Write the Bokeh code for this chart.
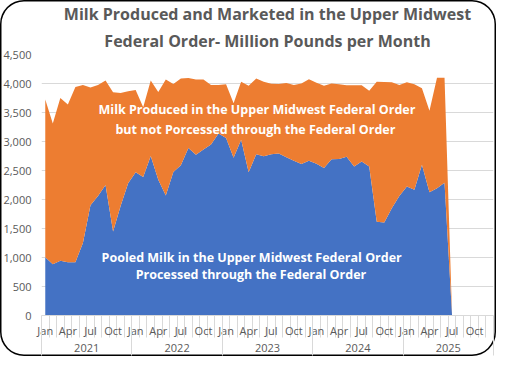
from bokeh.plotting import figure
from bokeh.models import (ColumnDataSource, Range1d, LinearAxis, FixedTicker,
                          Label, Title, SingleIntervalTicker, NumeralTickFormatter)
from bokeh.embed import file_html
from bokeh.resources import INLINE

# ---- data (million pounds per month), Jan 2021 .. Jul 2025 ----
years = ["2021", "2022", "2023", "2024", "2025"]
tick_months = ["Jan", "Apr", "Jul", "Oct"]

pooled = [1005, 885, 945, 920, 920, 1250, 1900, 2060, 2250, 1450, 1890, 2280,
          2470, 2390, 2750, 2340, 2070, 2475, 2590, 2890, 2770, 2860, 2950, 3140,
          3060, 2720, 3030, 2470, 2780, 2745, 2780, 2795, 2730, 2670, 2610, 2670,
          2615, 2545, 2695, 2700, 2735, 2570, 2655, 2570, 1615, 1605, 1850, 2060,
          2225, 2170, 2600, 2125, 2195, 2290, 0]
produced = [3725, 3310, 3750, 3640, 3940, 3975, 3930, 3975, 4050, 3850, 3835, 3865,
            3890, 3590, 4050, 3855, 4070, 3990, 4085, 4095, 4070, 4070, 3975, 3975,
            3985, 3660, 4030, 3960, 4085, 4030, 3995, 3990, 4010, 3975, 4000, 4075,
            4015, 3960, 4000, 3985, 3970, 3970, 3970, 3875, 4030, 4025, 4020, 3975,
            4020, 3985, 3920, 3530, 4100, 4100, 0]

not_pooled = [t - b for t, b in zip(produced, pooled)]
x = list(range(len(pooled)))
src = ColumnDataSource(dict(x=x, pooled=pooled, not_pooled=not_pooled))

BLUE = "#4472C4"
ORANGE = "#ED7D31"
GREY = "#595959"
GRID = "#D9D9D9"
FONT = "Open Sans"

n_months = 12 * len(years)
W, H = 496, 356

p = figure(width=W, height=H, output_backend="svg", toolbar_location=None,
           x_range=Range1d(-0.5, n_months - 0.5), y_range=Range1d(0, 4500),
           x_axis_type=None, min_border_left=41, min_border_right=3,
           min_border_top=0, min_border_bottom=41)
# rounded chart border drawn behind a transparent border area
p.styles = {"box-shadow": "inset 0 0 0 1.5px #000", "border-radius": "24px",
            "background-color": "white"}
p.outline_line_color = None
p.background_fill_color = "white"
p.border_fill_color = None

p.varea_stack(["pooled", "not_pooled"], x="x", color=[BLUE, ORANGE], source=src)

# titles (bottom line added first)
p.add_layout(Title(text="Federal Order- Million Pounds per Month", align="center",
                   text_font=FONT, text_font_size="16px", text_font_style="bold",
                   text_color=GREY, standoff=6), "above")
p.add_layout(Title(text="Milk Produced and Marketed in the Upper Midwest", align="center",
                   text_font=FONT, text_font_size="16px", text_font_style="bold",
                   text_color=GREY, standoff=0), "above")

# y axis
ya = p.yaxis[0]
ya.ticker = SingleIntervalTicker(interval=500)
ya.formatter = NumeralTickFormatter(format="0,0")
ya.axis_line_color = None
ya.major_tick_line_color = None
ya.minor_tick_line_color = None
ya.major_tick_out = 0
ya.major_label_text_font = FONT
ya.major_label_text_font_size = "11px"
ya.major_label_text_color = GREY
ya.major_label_standoff = 6
p.ygrid.grid_line_color = GRID
p.xgrid.grid_line_color = None

# month axis (labels every quarter, separator ticks between every month)
month_ticks = list(range(0, n_months, 3))
month_labels = {t: tick_months[(t // 3) % 4] for t in month_ticks}
sep_ticks = [i - 0.5 for i in range(n_months + 1)]
xa = LinearAxis(ticker=FixedTicker(ticks=month_ticks, minor_ticks=sep_ticks),
                major_label_overrides=month_labels,
                axis_line_color=GRID, major_tick_line_color=None,
                major_tick_out=0, major_tick_in=0,
                minor_tick_line_color=GRID, minor_tick_out=22, minor_tick_in=0,
                major_label_standoff=-15, major_label_text_font=FONT,
                major_label_text_font_size="11px", major_label_text_color=GREY)
p.add_layout(xa, "below")

# year axis (group labels, long separators at year boundaries)
year_ticks = [12 * k + 5.5 for k in range(len(years))]
year_labels = {t: y for t, y in zip(year_ticks, years)}
year_seps = [12 * k - 0.5 for k in range(len(years) + 1)]
ya2 = LinearAxis(ticker=FixedTicker(ticks=year_ticks, minor_ticks=year_seps),
                 major_label_overrides=year_labels,
                 axis_line_color=None, major_tick_line_color=None,
                 major_tick_out=0, major_tick_in=0,
                 minor_tick_line_color=GRID, minor_tick_out=15, minor_tick_in=21,
                 major_label_standoff=-12, major_label_text_font=FONT,
                 major_label_text_font_size="11px", major_label_text_color=GREY)
p.add_layout(ya2, "below")

# series annotations
ann = [(28.1, 3558, "Milk Produced in the Upper Midwest Federal Order"),
       (27.9, 3208, "but not Porcessed through the Federal Order"),
       (27.4, 1008, "Pooled Milk in the Upper Midwest Federal Order"),
       (27.3, 708, "Processed through the Federal Order")]
for ax, ay, t in ann:
    p.add_layout(Label(x=ax, y=ay, text=t, text_align="center", text_baseline="middle",
                       text_color="white", text_font=FONT, text_font_style="bold",
                       text_font_size="12.5px"))

open("out.html", "w").write(file_html(p, INLINE))
